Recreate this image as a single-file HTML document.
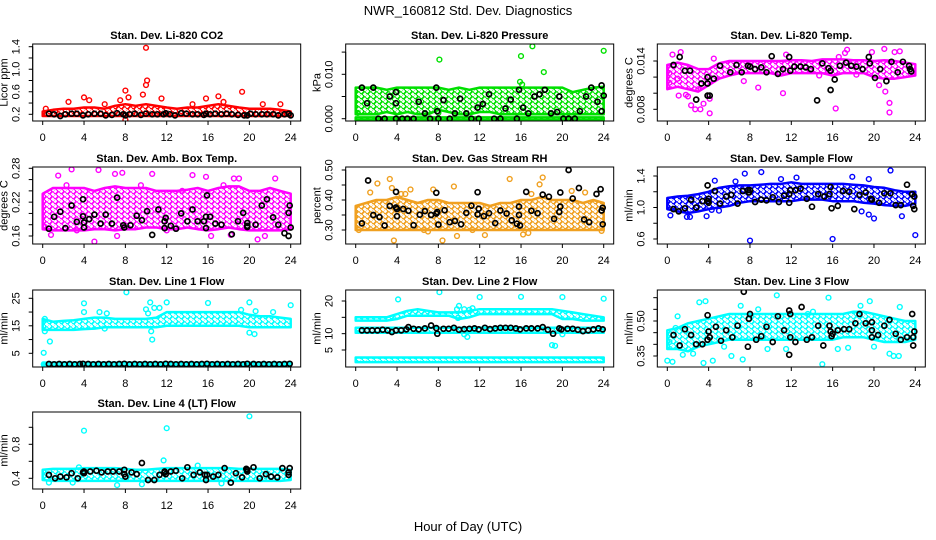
<!DOCTYPE html>
<html><head><meta charset="utf-8"><style>
html,body{margin:0;padding:0;background:#fff}
svg{display:block;font-family:"Liberation Sans",sans-serif}
</style></head><body>
<svg id="chart" width="936" height="540" viewBox="0 0 936 540" xmlns="http://www.w3.org/2000/svg">
<text x="468" y="15" text-anchor="middle" font-size="13">NWR_160812 Std. Dev. Diagnostics</text>
<text x="468" y="531" text-anchor="middle" font-size="13">Hour of Day (UTC)</text>
</svg>
<script>
const xTicks=[0,4,8,12,16,20,24];
const bandHours=[0,1,2,3,4,5,6,7,8,9,10,11,12,13,14,15,16,17,18,19,20,21,22,23,24];

// P1 CO2
const p1BandLo=[0.17,0.17,0.17,0.17,0.17,0.17,0.17,0.17,0.17,0.17,0.17,0.17,0.17,0.17,0.17,0.17,0.17,0.17,0.17,0.17,0.17,0.17,0.17,0.17,0.17];
const p1BandHi=[0.25,0.28,0.30,0.30,0.32,0.32,0.30,0.35,0.38,0.35,0.38,0.35,0.32,0.30,0.32,0.32,0.35,0.38,0.35,0.32,0.30,0.30,0.30,0.28,0.25];
const p1Color=[[10,1.38],[10.1,0.8],[10,0.72],[8,0.62],[19.3,0.6],[4,0.5],[17,0.52],[2.5,0.42],[11.5,0.48],[7.5,0.45],[9.7,0.55],[6,0.38],[8,0.1],[15.8,0.48],[0.3,0.3],[14.5,0.38],[21.3,0.38],[23,0.38],[4.5,0.45],[8.3,0.5],[17.5,0.42]];
const p1Black=[[0.6,0.21],[1.1,0.2],[1.7,0.17],[2.2,0.2],[2.8,0.21],[3.3,0.21],[3.9,0.18],[4.4,0.2],[5,0.21],[5.6,0.21],[6.1,0.18],[6.7,0.19],[7.2,0.22],[7.8,0.2],[8.0,0.18],[8.4,0.2],[8.9,0.21],[9.5,0.19],[10,0.21],[10.6,0.2],[11.1,0.2],[11.7,0.2],[11.9,0.22],[12.3,0.2],[12.8,0.18],[13.4,0.22],[13.9,0.21],[14.5,0.2],[15,0.2],[15.6,0.19],[15.8,0.21],[16.2,0.2],[16.7,0.21],[17.3,0.2],[17.8,0.21],[18.3,0.2],[18.9,0.19],[19.5,0.18],[19.8,0.18],[20.1,0.21],[20.6,0.2],[21.2,0.2],[21.7,0.2],[22.3,0.2],[22.8,0.18],[23.4,0.2],[23.8,0.21],[24,0.18]];

// P2 pressure
const p2BandLo=[0.001,0.001,0.001,0.0015,0.001,0.0015,0.001,0.001,0.002,0.0015,0.001,0.001,0.0015,0.0015,0.001,0.001,0.001,0.001,0.001,0.001,0.001,0.001,0.001,0.001,0.001];
const p2BandHi=[0.007,0.007,0.007,0.0065,0.007,0.007,0.007,0.007,0.007,0.0065,0.007,0.0065,0.007,0.007,0.007,0.007,0.007,0.007,0.007,0.007,0.007,0.006,0.0065,0.007,0.0072];
const p2LineLo=[-0.0003,-0.0003,-0.0003,-0.0003,-0.0003,-0.0003,-0.0003,-0.0003,-0.0003,-0.0003,-0.0003,-0.0003,-0.0003,-0.0003,-0.0003,-0.0003,-0.0003,-0.0003,-0.0003,-0.0003,-0.0003,-0.0003,-0.0003,-0.0003,-0.0003];
const p2LineHi=[0.0003,0.0003,0.0003,0.0003,0.0003,0.0003,0.0003,0.0003,0.0003,0.0003,0.0003,0.0003,0.0003,0.0003,0.0003,0.0003,0.0003,0.0003,0.0003,0.0003,0.0003,0.0003,0.0003,0.0003,0.0003];
const p2Color=[[8.1,0.0133],[16,0.0141],[17.1,0.0163],[18.2,0.0105],[24,0.0153],[15.9,0.0083],[0.2,0.0013],[8,0.0013],[16.1,0.0077]];
const p2Black=[[0.6,0.007],[1.1,0.0035],[1.7,0.007],[2.2,0],[2.8,0],[3.3,0.005],[3.9,0.0035],[3.9,0.006],[3.9,0],[4.5,0],[5,0],[5.6,0],[6.1,0.0038],[6.7,0.0012],[7.2,0],[7.8,0.007],[7.9,0.0017],[8,0],[8.5,0.0042],[9.1,0],[9.6,0.0012],[10.1,0.0045],[10.7,0.0012],[11.2,0],[11.8,0.0025],[11.9,0],[12.3,0.0033],[12.9,0.0055],[13.4,0],[14,0],[14.5,0.0023],[15,0.0043],[15.6,0],[15.8,0.0065],[16.2,0.0025],[16.7,0.0012],[17.3,0.005],[17.8,0.0055],[18.3,0.0065],[18.9,0.0012],[19.5,0.0015],[19.7,0.005],[20.1,0],[20.6,0],[21.2,0],[21.7,0.0017],[22.3,0.005],[22.8,0.007],[23.4,0.0038],[23.8,0.0017],[23.8,0.0075],[24,0.0052]];

// P3 Li-820 temp
const p3BandLo=[0.0105,0.0108,0.0105,0.0102,0.0110,0.0118,0.0122,0.0125,0.0125,0.0125,0.0125,0.0122,0.0125,0.0125,0.0125,0.0125,0.0122,0.0125,0.0125,0.0125,0.0120,0.0118,0.0118,0.0120,0.0122];
const p3BandHi=[0.0135,0.0138,0.0135,0.0130,0.0130,0.0137,0.0140,0.0140,0.0140,0.0140,0.0140,0.0140,0.0141,0.0141,0.0140,0.0142,0.0142,0.0142,0.0141,0.0141,0.0140,0.0141,0.0140,0.0138,0.0136];
const p3Color=[[0.5,0.0148],[1.3,0.0151],[1.1,0.0097],[1.8,0.0098],[2.3,0.0085],[2.7,0.0080],[3.2,0.0080],[3.5,0.0087],[4.1,0.0075],[4.1,0.0093],[2.0,0.0096],[7.4,0.0115],[8.8,0.0107],[11.2,0.0100],[11.5,0.0148],[14.7,0.0122],[16.3,0.0081],[16.6,0.0145],[17.2,0.0150],[17.4,0.0154],[19.8,0.0151],[20.5,0.0110],[21.0,0.0155],[21.5,0.0088],[21.5,0.0076],[22.0,0.0151],[22.5,0.0152],[21.1,0.0102],[18.3,0.0123],[4.5,0.0143],[0.2,0.0125],[0.2,0.0113],[3.0,0.0105],[1.0,0.0118]];
const p3Black=[[0.6,0.0135],[1.2,0.0145],[1.7,0.0128],[2.2,0.0128],[2.8,0.0092],[3.3,0.0112],[3.9,0.0120],[3.9,0.0112],[3.9,0.0097],[4.1,0.0097],[4.5,0.0118],[5.1,0.0134],[6.1,0.0126],[6.7,0.0135],[7.2,0.0126],[7.8,0.0134],[8.0,0.0133],[8.5,0.0130],[9.1,0.0132],[9.6,0.0126],[10.1,0.0146],[10.7,0.0124],[11.2,0.0130],[11.8,0.0145],[11.9,0.0128],[12.3,0.0133],[12.9,0.0133],[13.4,0.0132],[13.9,0.0130],[14.5,0.0091],[15,0.0137],[15.6,0.0131],[15.8,0.0128],[15.8,0.0104],[16.2,0.0117],[16.7,0.0134],[17.3,0.0138],[17.8,0.0134],[18.3,0.0133],[18.9,0.0130],[19.5,0.0145],[19.6,0.0137],[20.1,0.0119],[20.6,0.0130],[21.2,0.0115],[21.7,0.0139],[22.3,0.0126],[22.8,0.0139],[23.4,0.0134],[23.5,0.0130],[23.6,0.0127]];

// P4 amb box temp
const p4BandLo=[0.172,0.170,0.170,0.170,0.170,0.172,0.172,0.170,0.172,0.172,0.175,0.175,0.172,0.172,0.175,0.172,0.170,0.172,0.175,0.172,0.170,0.170,0.170,0.170,0.172];
const p4BandHi=[0.235,0.245,0.245,0.245,0.245,0.240,0.245,0.248,0.245,0.245,0.245,0.240,0.240,0.240,0.242,0.245,0.240,0.245,0.248,0.248,0.240,0.240,0.245,0.240,0.235];
const p4Color=[[2.8,0.278],[7.0,0.270],[7.7,0.272],[1.5,0.267],[10.6,0.270],[14.5,0.268],[15.8,0.265],[22.5,0.262],[0.8,0.162],[5.0,0.150],[7.2,0.160],[20.8,0.154],[21.5,0.160],[18.2,0.162],[16.3,0.160],[5.4,0.277],[19.0,0.262],[18.5,0.262],[0.2,0.176],[3.3,0.170],[12,0.170],[2.3,0.25],[9.5,0.25],[13.5,0.24],[17.5,0.25]];
const p4Black=[[0.6,0.173],[1.1,0.194],[1.7,0.203],[2.2,0.174],[2.8,0.214],[3.3,0.185],[3.9,0.195],[3.9,0.225],[4.0,0.184],[4.0,0.175],[4.5,0.190],[5.0,0.198],[5.6,0.182],[6.1,0.198],[6.7,0.182],[7.2,0.228],[7.8,0.179],[7.9,0.175],[8.5,0.179],[9.1,0.196],[9.6,0.188],[10.1,0.204],[10.6,0.162],[11.2,0.207],[11.8,0.186],[11.9,0.192],[11.8,0.174],[12.4,0.178],[12.9,0.173],[13.4,0.200],[14,0.186],[14.5,0.207],[15,0.186],[15.6,0.186],[15.8,0.194],[15.8,0.174],[15.9,0.232],[16.2,0.194],[16.7,0.182],[17.3,0.180],[18.3,0.163],[18.9,0.186],[19.4,0.201],[19.8,0.183],[19.8,0.178],[19.8,0.176],[20.6,0.180],[21.2,0.214],[21.7,0.225],[22.3,0.193],[22.8,0.180],[23.4,0.165],[23.8,0.160],[23.8,0.201],[23.9,0.214],[24,0.175]];

// P5 gas stream RH
const p5BandLo=[0.300,0.300,0.300,0.300,0.300,0.300,0.300,0.300,0.300,0.300,0.300,0.300,0.300,0.300,0.300,0.300,0.300,0.300,0.300,0.300,0.300,0.300,0.300,0.300,0.300];
const p5BandHi=[0.38,0.39,0.40,0.40,0.41,0.40,0.39,0.40,0.40,0.39,0.39,0.39,0.39,0.38,0.39,0.39,0.40,0.40,0.41,0.40,0.40,0.40,0.39,0.40,0.39];
const p5Color=[[3.3,0.470],[2.1,0.455],[3.5,0.44],[5.3,0.435],[7.5,0.435],[9.5,0.445],[14.9,0.47],[18.1,0.475],[17.8,0.452],[20.9,0.430],[22.2,0.425],[3.7,0.265],[8.4,0.265],[9.8,0.280],[12.5,0.283],[16.2,0.285],[16.7,0.290],[0.3,0.300],[23.8,0.297],[11.3,0.300],[1.4,0.425],[17,0.42],[6.6,0.30],[7,0.295],[4.4,0.42],[4.8,0.42]];
const p5Black=[[0.6,0.322],[1.2,0.465],[1.7,0.350],[2.3,0.343],[2.8,0.315],[3.3,0.380],[3.9,0.375],[3.9,0.427],[4.0,0.346],[4.0,0.370],[4.6,0.370],[5.1,0.364],[5.6,0.316],[6.2,0.351],[6.7,0.363],[7.3,0.350],[7.8,0.424],[7.8,0.355],[7.9,0.360],[8,0.318],[8.6,0.366],[9.1,0.326],[9.6,0.330],[10.2,0.319],[10.7,0.357],[11.2,0.381],[11.8,0.426],[11.8,0.352],[11.9,0.371],[12.4,0.346],[12.9,0.356],[13.5,0.323],[14,0.365],[14.6,0.355],[15.1,0.332],[15.6,0.321],[15.8,0.378],[15.8,0.350],[15.9,0.315],[16.5,0.427],[17.0,0.364],[17.6,0.356],[18.1,0.418],[18.7,0.411],[19.2,0.337],[19.7,0.360],[19.8,0.378],[19.8,0.425],[20.6,0.500],[21.0,0.405],[21.6,0.440],[22.1,0.335],[22.6,0.326],[23.3,0.420],[23.7,0.436],[23.8,0.365],[23.9,0.374],[23.9,0.319]];

// P6 sample flow
const p6BandLo=[0.98,0.95,0.93,0.95,0.98,1.00,1.02,1.06,1.08,1.08,1.08,1.08,1.08,1.10,1.10,1.10,1.08,1.08,1.08,1.06,1.05,1.03,1.02,1.02,1.05];
const p6BandHi=[1.12,1.14,1.15,1.17,1.20,1.25,1.27,1.28,1.28,1.29,1.30,1.30,1.32,1.30,1.30,1.30,1.30,1.30,1.29,1.28,1.26,1.25,1.22,1.20,1.20];
const p6Color=[[0.3,0.90],[1.9,0.88],[2.2,0.88],[3.8,0.89],[8,0.58],[16,0.60],[24,0.65],[21.6,1.47],[9.1,1.45],[7.5,1.43],[12.5,1.38],[17.9,1.39],[11,1.36],[19.5,1.36],[20,0.86],[19.5,0.91],[18.8,0.95],[22.7,0.89],[4.6,1.34],[6.6,1.33],[4.3,0.97],[5.0,0.96]];
const p6Black=[[0.6,0.98],[1.1,0.95],[1.7,0.99],[2.3,1.10],[2.8,1.00],[3.4,1.08],[3.9,1.28],[3.9,1.08],[4.0,1.11],[4.0,1.06],[4.6,1.21],[5.1,1.05],[5.7,1.14],[6.2,1.16],[6.8,1.05],[7.3,1.21],[7.8,1.22],[7.9,1.19],[8.0,1.22],[8.5,1.07],[9.1,1.10],[9.6,1.09],[10.2,1.13],[10.8,1.07],[11.3,1.15],[11.8,1.06],[11.8,1.17],[11.9,1.22],[12.4,1.22],[12.9,1.24],[13.5,1.11],[14.0,1.01],[14.6,1.17],[15.2,1.14],[15.7,1.17],[15.8,1.26],[15.9,0.99],[16.5,1.02],[17.0,1.21],[17.6,1.20],[18.1,0.98],[18.6,1.16],[19.2,1.19],[19.7,1.11],[19.8,1.10],[20.5,1.06],[21.0,1.18],[21.6,1.18],[22.1,1.03],[22.6,1.03],[23.2,1.29],[23.7,1.17],[23.8,1.02],[23.9,1.14],[23.9,0.98]];

// P7 line 1 flow
const p7BandLo=[13.5,13.5,13.5,13.5,13.8,14,14.5,14.5,14.5,14.5,14.5,14.5,15,15,15,15,15,15,15,15,14.5,14.5,14.5,14.5,14.5];
const p7BandHi=[17.5,16.5,16.8,17,17.5,18,18,17.5,17.5,17.5,17.5,18,20,20,20,20,20,20,20,20,19,18.5,18.5,18,17.5];
const p7LowLo=[0.6,0.6,0.6,0.6,0.6,0.6,0.6,0.6,0.6,0.6,0.6,0.6,0.6,0.6,0.6,0.6,0.6,0.6,0.6,0.6,0.6,0.6,0.6,0.6,0.6];
const p7LowHi=[1.6,1.6,1.6,1.6,1.6,1.6,1.6,1.6,1.6,1.6,1.6,1.6,1.6,1.6,1.6,1.6,1.6,1.6,1.6,1.6,1.6,1.6,1.6,1.6,1.6];
const p7Color=[[0.1,5.2],[0.1,1],[0.2,17.5],[0.2,13],[0.7,9.3],[4,23.2],[4,20],[8.1,27.2],[10,21],[10.2,19.5],[10.4,23.5],[10.5,13],[10.6,10],[10.8,21.5],[11.3,21.5],[12,23.5],[16,23.3],[20,23.5],[20,12.5],[20.5,12],[24,22.5],[5.5,20],[6.2,19.5],[6,14],[20.6,20.3],[22.3,20],[19.2,20.8]];
const p7Black=[[0.6,1.1],[1.1,1.0],[1.6,1.1],[2.1,1.0],[2.6,1.1],[3.1,1.0],[3.6,1.1],[3.9,1.2],[4.4,1.1],[4.9,1.0],[5.4,1.1],[5.9,1.0],[6.4,1.1],[6.9,1.0],[7.4,1.1],[7.9,1.2],[8.4,1.0],[8.9,1.1],[9.4,1.0],[9.9,1.1],[10.4,1.0],[10.9,1.1],[11.4,1.0],[11.9,1.2],[12.4,1.1],[12.9,1.0],[13.4,1.1],[13.9,1.0],[14.4,1.1],[14.9,1.0],[15.4,1.1],[15.9,1.2],[16.4,1.0],[16.9,1.1],[17.4,1.0],[17.9,1.1],[18.4,1.0],[18.9,1.1],[19.4,1.0],[19.8,1.2],[20.4,1.1],[20.9,1.0],[21.4,1.1],[21.9,1.0],[22.4,1.1],[22.9,1.0],[23.4,1.1],[23.9,1.2]];

// P8 line 2 flow
const p8BandLo=[14,14,14,14,14.5,15.5,15.5,15.5,15.5,15.5,14.5,15,16,16,16,16,16,16,16,16,14.5,14.5,14,14,14];
const p8BandHi=[15,15,15,15,16,17,17.5,17,16.5,16.5,16.5,17,17.5,17.5,17.5,17.5,17.5,17.5,17.5,17.5,17,16.5,16,15.5,15];
const p8MidLo=[10.3,10.3,10.3,10.3,10.3,10.3,10.3,10.3,10.3,10.3,10.3,10.3,10.3,10.3,10.3,10.3,10.3,10.3,10.3,10.3,10.3,10.3,10.3,10.3,10.3];
const p8MidHi=[11.8,11.8,11.8,11.8,11.8,11.8,11.8,11.8,11.8,11.8,11.8,11.8,11.8,11.8,11.8,11.8,11.8,11.8,11.8,11.8,11.8,11.8,11.8,11.8,11.8];
const p8LowLo=[1.3,1.3,1.3,1.3,1.3,1.3,1.3,1.3,1.3,1.3,1.3,1.3,1.3,1.3,1.3,1.3,1.3,1.3,1.3,1.3,1.3,1.3,1.3,1.3,1.3];
const p8LowHi=[2.7,2.7,2.7,2.7,2.7,2.7,2.7,2.7,2.7,2.7,2.7,2.7,2.7,2.7,2.7,2.7,2.7,2.7,2.7,2.7,2.7,2.7,2.7,2.7,2.7];
const p8Color=[[4.1,20.5],[8.1,22.7],[12,21.2],[16,21.3],[20,21.2],[24,20.7],[9.8,17.5],[10,18.5],[10.5,17.5],[11,17.3],[11.3,17.8],[10.8,9],[10.5,9.8],[19,6.5],[19.3,6.3],[20,9.8],[9.9,14.8]];
const p8Black=[[0.6,11],[1.1,11],[1.6,11],[2.1,11],[2.6,11.2],[3.1,11],[3.5,10.5],[3.9,11],[4.4,11],[4.9,11.3],[5.1,12],[5.6,11.5],[6.1,11.3],[6.7,11.6],[7.3,12.5],[7.8,11.7],[7.9,10.0],[8.5,11.5],[9.0,11.5],[9.5,11.8],[10.0,11.2],[10.5,11.4],[11.0,11.5],[11.5,11.6],[11.9,11.3],[12.5,11.8],[13.0,11.4],[13.5,11.6],[14.0,11.8],[14.5,11.8],[15.0,11.8],[15.5,11.6],[15.9,11.3],[16.5,11.6],[17.0,11.6],[17.6,11.6],[18.1,12],[18.6,11.2],[19.1,10],[19.7,11.6],[19.9,11.3],[20.5,11.5],[21.0,11.5],[21.5,11.2],[22.0,10.8],[22.5,11],[23.0,11.3],[23.5,11.6],[23.9,11.3]];

// P9 line 3 flow
const p9BandLo=[0.38,0.38,0.37,0.39,0.40,0.41,0.42,0.42,0.42,0.42,0.42,0.42,0.42,0.42,0.42,0.42,0.42,0.43,0.43,0.43,0.42,0.41,0.41,0.41,0.42];
const p9BandHi=[0.46,0.47,0.49,0.50,0.51,0.52,0.53,0.53,0.53,0.53,0.53,0.53,0.53,0.53,0.53,0.53,0.53,0.53,0.54,0.54,0.53,0.52,0.51,0.50,0.50];
const p9Color=[[0,0.33],[0.5,0.325],[0.8,0.47],[3.1,0.58],[3.7,0.585],[3.5,0.32],[4.4,0.33],[6.2,0.35],[7.1,0.565],[8.8,0.55],[10.6,0.61],[15,0.315],[15.6,0.60],[18.7,0.565],[19.6,0.585],[22.5,0.56],[21.5,0.36],[21.9,0.35],[22.4,0.35],[1.5,0.355],[9.7,0.38],[16.5,0.38],[7.3,0.335],[13.6,0.53],[14.1,0.54],[0.2,0.41],[1.0,0.52],[2.5,0.36],[5.5,0.39],[11.5,0.38],[17.5,0.385],[20,0.39]];
const p9Black=[[0.6,0.44],[1.2,0.395],[1.7,0.465],[2.3,0.44],[2.8,0.40],[3.4,0.40],[3.9,0.525],[3.9,0.42],[4.0,0.455],[4.1,0.43],[4.7,0.475],[5.2,0.415],[5.7,0.46],[6.3,0.43],[6.8,0.48],[7.4,0.625],[7.8,0.39],[7.9,0.51],[8.0,0.53],[8.6,0.42],[9.1,0.435],[9.6,0.475],[10.2,0.41],[10.7,0.52],[11.3,0.46],[11.8,0.355],[11.8,0.545],[11.9,0.43],[11.9,0.53],[12.4,0.41],[13.0,0.56],[13.5,0.42],[14,0.43],[14.6,0.48],[15.1,0.395],[15.7,0.48],[15.8,0.455],[15.9,0.435],[16.0,0.445],[16.5,0.46],[17.1,0.465],[17.6,0.465],[18.2,0.49],[18.6,0.53],[19.2,0.49],[19.8,0.46],[19.8,0.43],[19.8,0.495],[20.4,0.44],[21.0,0.48],[21.5,0.505],[22.1,0.445],[22.6,0.42],[23.2,0.43],[23.7,0.53],[23.8,0.395],[23.8,0.43],[23.9,0.455]];

// P10 line 4 flow
const p10BandLo=[0.38,0.37,0.37,0.37,0.37,0.37,0.37,0.37,0.37,0.37,0.37,0.37,0.37,0.37,0.37,0.37,0.37,0.37,0.37,0.37,0.37,0.37,0.37,0.37,0.38];
const p10BandHi=[0.50,0.51,0.51,0.51,0.52,0.52,0.52,0.52,0.51,0.50,0.50,0.51,0.52,0.52,0.52,0.52,0.52,0.52,0.52,0.51,0.51,0.51,0.51,0.51,0.50];
const p10Color=[[4,0.96],[12,0.99],[20,1.13],[11.7,0.61],[7.2,0.32],[9.6,0.33],[17.3,0.34],[2.9,0.35],[0.6,0.35],[3.5,0.53],[15,0.55]];
const p10Black=[[0.6,0.44],[1.2,0.40],[1.7,0.42],[2.3,0.41],[2.8,0.46],[3.4,0.40],[3.9,0.47],[4.0,0.48],[4.0,0.46],[4.6,0.48],[5.2,0.49],[5.7,0.47],[6.3,0.48],[6.8,0.48],[7.4,0.48],[7.9,0.50],[7.9,0.45],[8.0,0.42],[8.6,0.47],[9.1,0.45],[9.6,0.58],[10.2,0.38],[10.8,0.38],[11.3,0.44],[11.8,0.47],[11.8,0.48],[11.9,0.45],[12.4,0.48],[12.9,0.49],[13.5,0.40],[14.0,0.53],[14.6,0.44],[15.2,0.47],[15.7,0.44],[15.8,0.38],[15.9,0.44],[16.5,0.42],[17.0,0.44],[17.6,0.52],[18.2,0.35],[18.7,0.46],[19.3,0.41],[19.7,0.51],[19.8,0.48],[19.8,0.50],[20.4,0.53],[21.0,0.40],[21.6,0.45],[22.1,0.42],[22.7,0.41],[23.2,0.52],[23.8,0.44],[23.8,0.47],[23.9,0.52]];

const panels=[
 {name:"co2",title:"Stan. Dev. Li-820 CO2",ylab:"Licor ppm",col:0,row:0,cal:[1.4,46.7,0.2,114.3],ticks:[0.2,0.4,0.6,0.8,1.0,1.2,1.4],labels:[0.2,0.6,1.0,1.4],dec:1,color:"#ff0000",bands:[[p1BandLo,p1BandHi]],pts:p1Color,blk:p1Black},
 {name:"pressure",title:"Stan. Dev. Li-820 Pressure",ylab:"kPa",col:1,row:0,cal:[0.010,74.3,0,118.7],ticks:[0,0.005,0.010,0.015],labels:[0,0.010],dec:3,color:"#00e000",bands:[[p2BandLo,p2BandHi],[p2LineLo,p2LineHi]],pts:p2Color,blk:p2Black},
 {name:"licor-temp",title:"Stan. Dev. Li-820 Temp.",ylab:"degrees C",col:2,row:0,cal:[0.014,61,0.008,109.3],ticks:[0.008,0.010,0.012,0.014],labels:[0.008,0.014],dec:3,color:"#ff00ff",bands:[[p3BandLo,p3BandHi]],pts:p3Color,blk:p3Black},
 {name:"box-temp",title:"Stan. Dev. Amb. Box Temp.",ylab:"degrees C",col:0,row:1,cal:[0.28,168.3,0.16,236],ticks:[0.16,0.18,0.20,0.22,0.24,0.26,0.28],labels:[0.16,0.22,0.28],dec:2,color:"#ff00ff",bands:[[p4BandLo,p4BandHi]],pts:p4Color,blk:p4Black},
 {name:"rh",title:"Stan. Dev. Gas Stream RH",ylab:"percent",col:1,row:1,cal:[0.50,170,0.30,230],ticks:[0.30,0.35,0.40,0.45,0.50],labels:[0.30,0.40,0.50],dec:2,color:"#f0a020",bands:[[p5BandLo,p5BandHi]],pts:p5Color,blk:p5Black},
 {name:"sample-flow",title:"Stan. Dev. Sample Flow",ylab:"ml/min",col:2,row:1,cal:[1.4,176,0.6,239],ticks:[0.6,0.8,1.0,1.2,1.4],labels:[0.6,1.0,1.4],dec:1,color:"#0000ff",bands:[[p6BandLo,p6BandHi]],pts:p6Color,blk:p6Black},
 {name:"line1",title:"Stan. Dev. Line 1 Flow",ylab:"ml/min",col:0,row:2,cal:[25,298.3,5,353.3],ticks:[5,10,15,20,25],labels:[5,15,25],dec:0,color:"#00ffff",bands:[[p7BandLo,p7BandHi],[p7LowLo,p7LowHi]],pts:p7Color,blk:p7Black},
 {name:"line2",title:"Stan. Dev. Line 2 Flow",ylab:"ml/min",col:1,row:2,cal:[20,301,5,350],ticks:[5,10,15,20],labels:[5,10,20],dec:0,color:"#00ffff",bands:[[p8BandLo,p8BandHi],[p8MidLo,p8MidHi],[p8LowLo,p8LowHi]],pts:p8Color,blk:p8Black},
 {name:"line3",title:"Stan. Dev. Line 3 Flow",ylab:"ml/min",col:2,row:2,cal:[0.50,321,0.35,356],ticks:[0.35,0.40,0.45,0.50,0.55,0.60],labels:[0.35,0.50],dec:2,color:"#00ffff",bands:[[p9BandLo,p9BandHi]],pts:p9Color,blk:p9Black},
 {name:"line4",title:"Stan. Dev. Line 4 (LT) Flow",ylab:"ml/min",col:0,row:3,cal:[0.8,444.3,0.4,478.3],ticks:[0.4,0.6,0.8,1.0],labels:[0.4,0.8],dec:1,color:"#00ffff",bands:[[p10BandLo,p10BandHi]],pts:p10Color,blk:p10Black}
];
const colX0=[42.7,355.7,667.3];
const rowTop=[44,167,290,412];
const NS="http://www.w3.org/2000/svg";
const svg=document.getElementById('chart');
function mk(tag,attrs,parent){const e=document.createElementNS(NS,tag);for(const k in attrs)e.setAttribute(k,attrs[k]);(parent||svg).appendChild(e);return e;}
const defs=mk('defs',{});

panels.forEach(p=>{
  const x0=colX0[p.col],xs=248/24;
  const X=h=>x0+h*xs;
  const [v1,py1,v2,py2]=p.cal;
  const Y=v=>py1+(v-v1)*(py2-py1)/(v2-v1);
  const top=rowTop[p.row],bot=top+77,left=x0-10,right=x0+258;
  // texture pattern of rings
  const pat=mk('pattern',{id:'pat-'+p.name,patternUnits:'userSpaceOnUse',width:6,height:5},defs);
  mk('rect',{x:0,y:0,width:6,height:5,fill:'#fff'},pat);
  mk('circle',{cx:1.5,cy:1.5,r:2.2,fill:'none',stroke:p.color,'stroke-width':1.4},pat);
  mk('circle',{cx:4.5,cy:4,r:2.2,fill:'none',stroke:p.color,'stroke-width':1.4},pat);
  const g=mk('g',{});
  
  
  const cp=mk('clipPath',{id:'cp-'+p.name},g);
  mk('rect',{x:left,y:top,width:right-left,height:bot-top},cp);
  const t=mk('text',{x:(left+right)/2,y:top-5,'text-anchor':'middle','font-size':11,'font-weight':'bold'},g);
  t.textContent=p.title;
  
  
  const plot=mk('g',{'clip-path':'url(#cp-'+p.name+')'},g);
  
  
  p.bands.forEach((b,bi)=>{
    const lo=b[0],hi=b[1];
    let d='';
    bandHours.forEach((h,i)=>{d+=(i?'L':'M')+X(h).toFixed(1)+','+Y(hi[i]).toFixed(1);});
    for(let i=bandHours.length-1;i>=0;i--)d+='L'+X(bandHours[i]).toFixed(1)+','+Y(lo[i]).toFixed(1);
    const band=mk('path',{d:d+'Z',fill:'url(#pat-'+p.name+')',stroke:p.color,'stroke-width':2.5,'stroke-linejoin':'round'},plot);
    
    
  });
  p.pts.forEach(pt=>{
    const c=mk('circle',{cx:X(pt[0]).toFixed(1),cy:Y(pt[1]).toFixed(1),r:2.4,fill:'none',stroke:p.color,'stroke-width':1.4},plot);
    
    
  });
  p.blk.forEach(pt=>{
    const c=mk('circle',{cx:X(pt[0]).toFixed(1),cy:Y(pt[1]).toFixed(1),r:2.5,fill:'none',stroke:'#000','stroke-width':1.7},plot);
    
    
  });
  const box=mk('rect',{x:left,y:top,width:right-left,height:bot-top,fill:'none',stroke:'#000','stroke-width':1},g);
  
  
  mk('line',{x1:X(0),x2:X(24),y1:bot,y2:bot,stroke:'#000'},g);
  xTicks.forEach(h=>{
    mk('line',{x1:X(h),x2:X(h),y1:bot,y2:bot+4,stroke:'#000'},g);
    const l=mk('text',{x:X(h),y:bot+20,'text-anchor':'middle','font-size':11},g);
    l.textContent=h;
    
    
  });
  mk('line',{x1:left,x2:left,y1:Y(p.ticks[0]),y2:Y(p.ticks[p.ticks.length-1]),stroke:'#000'},g);
  p.ticks.forEach(v=>{mk('line',{x1:left-4,x2:left,y1:Y(v),y2:Y(v),stroke:'#000'},g);});
  p.labels.forEach(v=>{
    const yy=Y(v),xx=left-13;
    const l=mk('text',{x:xx,y:yy,'text-anchor':'middle','font-size':11,transform:'rotate(-90 '+xx+' '+yy+')'},g);
    l.textContent=v.toFixed(p.dec);
    
    
  });
  const yx=left-25,yy=(top+bot)/2;
  const yl=mk('text',{x:yx,y:yy,'text-anchor':'middle','font-size':11,transform:'rotate(-90 '+yx+' '+yy+')'},g);
  yl.textContent=p.ylab;
  
  
});
</script>
</body></html>
